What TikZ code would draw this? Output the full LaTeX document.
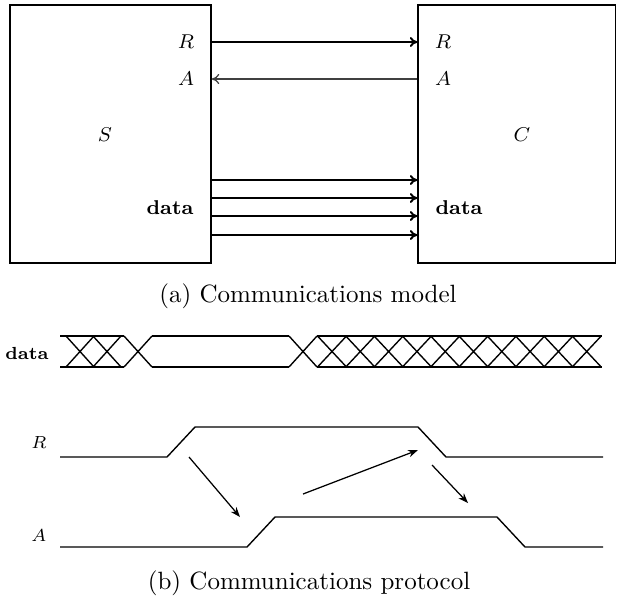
\documentclass[tikz,border=0pt]{standalone}
\usetikzlibrary{arrows.meta}
\begin{document}
\begin{tikzpicture}[x=0.4pt,y=-0.4pt,
  box/.style={draw,line width=0.6pt,inner sep=0pt},
  lbl/.style={inner sep=0pt,font=\footnotesize},
  tlbl/.style={inner sep=0pt,font=\scriptsize},
  sig/.style={line width=0.55pt},
  conn/.style={line width=0.8pt,-{To[length=3pt,width=4pt]}},
  thinconn/.style={line width=0.5pt,draw=black!75,-{To[length=3pt,width=4pt]}},
  cause/.style={line width=0.5pt,-{Stealth[length=4pt,width=3pt]}},
  captext/.style={inner sep=0pt,font=\normalsize}]
\useasboundingbox (0,0) rectangle (617,601);
% boxes
\node[box,minimum width=80.4pt,minimum height=103.2pt] (S) at (110.5,134) {};
\node[box,minimum width=79pt,minimum height=103.2pt] (C) at (516.8,134) {};
\node[lbl] (Sl) at (105,135) {$S$};
\node[lbl] (Cl) at (522,135) {$C$};
\node[lbl] (SR) at (186,42) {$R$};
\node[lbl] (SA) at (186,79) {$A$};
\node[lbl] (Sd) at (170,208) {\textbf{data}};
\node[lbl] (CR) at (443,42) {$R$};
\node[lbl] (CA) at (443,79) {$A$};
\node[lbl] (Cd) at (459,208) {\textbf{data}};
% rows
\coordinate (rR) at (0,42);
\coordinate (rA) at (0,79);
\draw[conn] (S.east |- rR) -- (C.west |- rR);
\draw[thinconn] (C.west |- rA) -- (S.east |- rA);
\foreach \yy/\nm in {180/d1,198/d2,216/d3,235/d4}{
  \coordinate (\nm) at (0,\yy);
  \draw[conn] (S.east |- \nm) -- (C.west |- \nm);
}
\node[captext] (capa) at (308,296) {(a) Communications model};
% data bus
\node[tlbl] (dl) at (27,353) {\textbf{data}};
\def\tp{336}\def\bt{367}
\draw[sig] (60,\tp) -- (124,\tp) (60,\bt) -- (124,\bt);
\foreach \c in {80,107}{
  \draw[sig] (\c-14,\tp) -- (\c+14,\bt) (\c-14,\bt) -- (\c+14,\tp);
}
\draw[sig] (124,\tp) -- (152,\bt) (124,\bt) -- (152,\tp);
\draw[sig] (152,\tp) -- (289,\tp) (152,\bt) -- (289,\bt);
\draw[sig] (289,\tp) -- (317,\bt) (289,\bt) -- (317,\tp);
\draw[sig] (317,\tp) -- (602,\tp) (317,\bt) -- (602,\bt);
\foreach \k in {0,...,9}{
  \pgfmathsetmacro{\c}{332+28.3*\k}
  \draw[sig] (\c-14.5,\tp) -- (\c+14.5,\bt) (\c-14.5,\bt) -- (\c+14.5,\tp);
}
% R and A signals
\node[tlbl] (tR) at (39,443) {$R$};
\node[tlbl] (tA) at (39,535) {$A$};
\draw[sig] (60,457) -- (167,457) -- (195,427) -- (418,427) -- (446,457) -- (603,457);
\draw[sig] (60,547) -- (247,547) -- (275,517) -- (497,517) -- (525,547) -- (603,547);
\coordinate (a1s) at (189,457);
\coordinate (a1e) at (240,517);
\coordinate (a2s) at (303,494);
\coordinate (a2e) at (418,450);
\coordinate (a3s) at (432,465);
\coordinate (a3e) at (468,503);
\draw[cause] (a1s) -- (a1e);
\draw[cause] (a2s) -- (a2e);
\draw[cause] (a3s) -- (a3e);
\node[captext] (capb) at (309,583) {(b) Communications protocol};
\end{tikzpicture}
\end{document}
